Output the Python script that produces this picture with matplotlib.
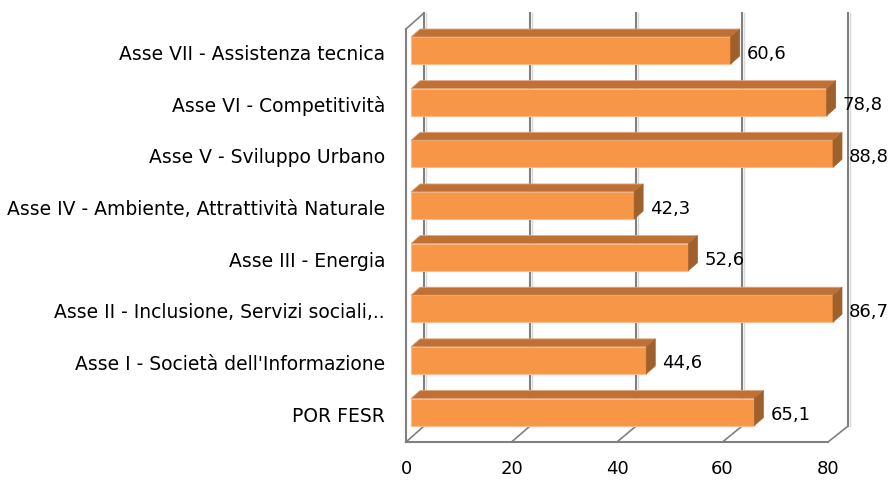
import matplotlib.pyplot as plt
from matplotlib.patches import Polygon, Rectangle

plt.rcParams['font.family'] = ['DejaVu Sans']

# data, bottom to top
categories = ['POR FESR',
              "Asse I - Società dell'Informazione",
              'Asse II - Inclusione, Servizi sociali,..',
              'Asse III - Energia',
              'Asse IV - Ambiente, Attrattività Naturale',
              'Asse V - Sviluppo Urbano',
              'Asse VI - Competitività',
              'Asse VII - Assistenza tecnica']
values = [65.1, 44.6, 86.7, 52.6, 42.3, 88.8, 78.8, 60.6]
xticks = [0, 20, 40, 60, 80]
xmax = 80

# pixel geometry of the 3D look
W, H = 890, 481
px_x = 5.275          # px per unit on x
px_y = 51.64          # px per category
x0_px = 406           # value 0 on front floor
y0_px = 413           # centre of bottom bar (from top)

fig = plt.figure(figsize=(W / 100, H / 100), dpi=100)
ax = fig.add_axes([0, 0, 1, 1])
ax.set_xlim(-x0_px / px_x, (W - x0_px) / px_x)
ax.set_ylim((y0_px - H) / px_y, y0_px / px_y)
ax.axis('off')

floor_y = (y0_px - 443) / px_y
top_y = (y0_px - 30) / px_y
back_dx = 18 / px_x
back_dy = 16 / px_y
grid_c = '#808080'

# back wall gridlines and floor
for t in xticks:
    gx = t * 1.005 + back_dx
    ax.plot([gx, gx], [floor_y + back_dy, top_y + back_dy], color=grid_c, lw=1.5, zorder=1)
    ax.plot([gx + 0.35, gx + 0.35], [floor_y + back_dy, top_y + back_dy],
            color='#d9d9d9', lw=1, zorder=0.9)
    ax.plot([t, gx], [floor_y, floor_y + back_dy], color=grid_c, lw=1.2, zorder=1)
    ax.text(t, (y0_px - 469) / px_y, str(t), ha='center', va='center', fontsize=13)
ax.plot([0, xmax], [floor_y, floor_y], color=grid_c, lw=1.5, zorder=1)
ax.plot([0, 0], [floor_y, top_y], color=grid_c, lw=1.5, zorder=1)
ax.plot([0, back_dx], [top_y, top_y + back_dy], color=grid_c, lw=1.2, zorder=1)

# bars
bx = 5 / px_x
bh = 27 / px_y
ddx = 9 / px_x
ddy = 8 / px_y
for i, (cat, v) in enumerate(zip(categories, values)):
    w = min(v, xmax)
    lo, hi = i - bh / 2, i + bh / 2
    ax.add_patch(Rectangle((bx, lo), w, bh, facecolor='#F79646',
                           edgecolor='#F9BC8E', lw=0.8, zorder=3))
    ax.add_patch(Polygon([(bx, hi), (bx + w, hi), (bx + w + ddx, hi + ddy),
                          (bx + ddx, hi + ddy)], closed=True,
                         facecolor='#BF7035', edgecolor='#E2A57A', lw=0.6, zorder=3))
    ax.add_patch(Polygon([(bx + w, lo), (bx + w + ddx, lo + ddy),
                          (bx + w + ddx, hi + ddy), (bx + w, hi)], closed=True,
                         facecolor='#A0602C', edgecolor='#A0602C', lw=0.5, zorder=3))
    ax.text(bx + w + 16 / px_x, i - 0.04, f'{v:.1f}'.replace('.', ','),
            ha='left', va='center', fontsize=13, zorder=4)
    ax.text(-21 / px_x, i - 0.06, cat, ha='right', va='center', fontsize=13.5)

fig.savefig('out.png', dpi=100)
